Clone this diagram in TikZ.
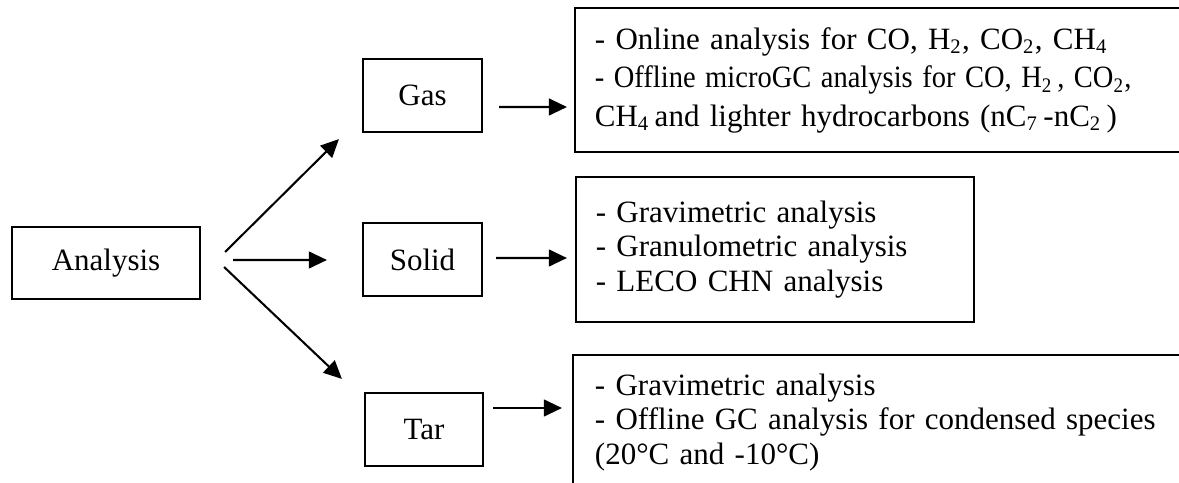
\documentclass[tikz,border=0pt]{standalone}
\usepackage{fontspec}
\setmainfont{Liberation Serif}
\usetikzlibrary{arrows.meta}

\tikzset{
    box/.style={draw, line width=0.8pt, inner sep=0pt, font=\fontsize{12}{13.2}\selectfont},
    infobox/.style={box, align=left, inner xsep=7.7pt},
    arr/.style={-{Triangle[length=7pt,width=6.5pt]}, line width=0.8pt},
}

\begin{document}
\begin{tikzpicture}[x=0.3871pt, y=-0.3871pt]
\useasboundingbox (0,0) rectangle (1179,483);
\clip (0,0) rectangle (1179,483);

% root and the three phases
\node[box, minimum width=72.8pt, minimum height=27.9pt] (ana) at (106,263) {Analysis};
\node[box, minimum width=46.1pt, minimum height=28.3pt] (gas) at (422.5,95.5) {Gas};
\node[box, minimum width=46.1pt, minimum height=28.3pt] (solid) at (422.5,259.5) {Solid};
\node[box, minimum width=45.7pt, minimum height=28.3pt] (tar) at (424,429.5) {Tar};

% what is done with each phase
\node[infobox, text width=224.6pt, minimum height=55.4pt,
      font=\fontsize{12}{14.9}\selectfont] (gasinfo) at (885,80)
    {- Online analysis for CO, H\textsubscript{2}, CO\textsubscript{2}, CH\textsubscript{4}\\
     \scalebox{0.92}[1]{- Offline microGC analysis for CO, H\textsubscript{2}\,, CO\textsubscript{2},}\\
     CH\textsubscript{4}\,and lighter hydrocarbons (nC\textsubscript{7}\,-nC\textsubscript{2}\,)};
\node[infobox, text width=138.7pt, minimum height=56.1pt] (solidinfo) at (775,249.5)
    {- Gravimetric analysis\\
     - Granulometric analysis\\
     - LECO CHN analysis};
\node[infobox, text width=223.8pt, inner xsep=8.5pt, minimum height=52.3pt] (tarinfo) at (884,422.5)
    {- Gravimetric analysis\\
     - Offline GC analysis for condensed species\\
     (20°C and -10°C)};

% arrows
\draw[arr] ([shift={(24,-11)}]ana.east) -- ([shift={(-23,6)}]gas.south west);
\draw[arr] ([shift={(32,-3)}]ana.east) -- ([shift={(-35,0.5)}]solid.west);
\draw[arr] ([shift={(23,4)}]ana.east) -- ([shift={(-22,-13)}]tar.north west);
\draw[arr] ([shift={(16,11.5)}]gas.east) -- ([shift={(-7,27)}]gasinfo.west);
\draw[arr] ([shift={(13,-1.5)}]solid.east) -- ([shift={(-8,8.5)}]solidinfo.west);
\draw[arr] ([shift={(9,-21.5)}]tar.east) -- ([shift={(-10,-14.5)}]tarinfo.west);
\end{tikzpicture}
\end{document}
